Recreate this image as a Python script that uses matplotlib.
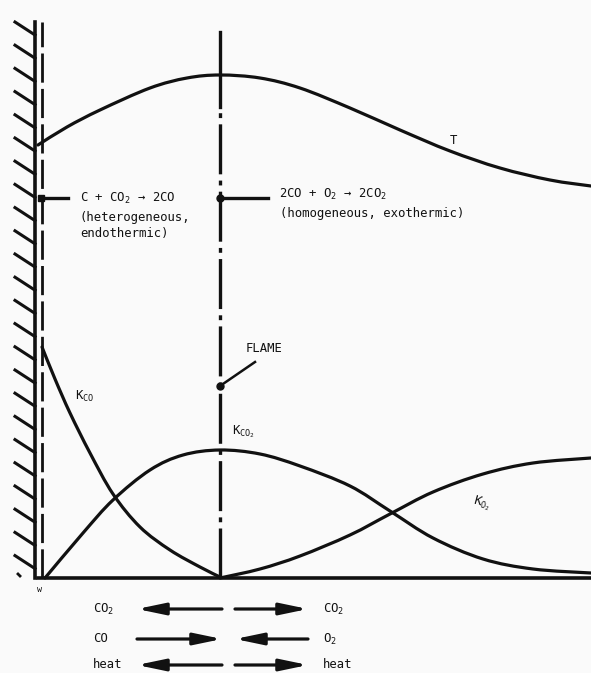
import numpy as np
import matplotlib.pyplot as plt
from matplotlib.path import Path
from matplotlib.patches import PathPatch

plt.rcParams['lines.scale_dashes'] = False

# ---- profiles: x = distance from wall, y = height above baseline ----
t_x = [0, 29, 62, 112, 149, 182, 222, 262, 312, 362, 412, 462, 512, 553]
t_y = [433, 451, 468, 490, 500, 503, 500, 490, 470, 448, 427, 410, 398, 392]

kco_x = [4, 17, 32, 52, 75, 102, 132, 162, 182]
kco_y = [231, 199, 165, 125, 84, 51, 28, 11, 1]

kco2_x = [7, 45, 75, 112, 145, 182, 222, 262, 312, 352, 395, 445, 495, 553]
kco2_y = [0, 45, 78, 108, 123, 128, 124, 112, 92, 67, 40, 19, 9, 5]

ko2_x = [182, 222, 262, 312, 352, 395, 445, 495, 553]
ko2_y = [0, 9, 22, 43, 64, 86, 104, 115, 120]

wall_x = -3
film_x = 4
flame_x = 182
reaction_y = 380
flame_mark_y = 192

flux_rows = [("$\\mathregular{CO_2}$", "left", "$\\mathregular{CO_2}$", "right"),
             ("CO", "right", "$\\mathregular{O_2}$", "left"),
             ("heat", "left", "heat", "right")]
flux_y = [-31, -61, -87]

INK = "#111111"
FONT = dict(family="DejaVu Sans Mono", fontsize=8.8, color=INK)


def smooth_path(xs, ys):
    """Catmull-Rom through the points, as cubic bezier segments."""
    p = np.column_stack([xs, ys]).astype(float)
    ext = np.vstack([p[0], p, p[-1]])
    verts = [p[0]]
    codes = [Path.MOVETO]
    for i in range(1, len(ext) - 2):
        c1 = ext[i] + (ext[i + 1] - ext[i - 1]) / 6.0
        c2 = ext[i + 1] - (ext[i + 2] - ext[i]) / 6.0
        verts += [c1, c2, ext[i + 1]]
        codes += [Path.CURVE4] * 3
    return Path(verts, codes)


fig = plt.figure(figsize=(5.91, 6.73), dpi=100)
fig.patch.set_facecolor("#fafafa")
ax = fig.add_axes([0, 0, 1, 1])
ax.set_facecolor("#fafafa")
ax.set_xlim(-38, 553)
ax.set_ylim(-95, 578)
ax.axis("off")

# wall with hatching
ax.plot([wall_x, wall_x], [0, 556], color=INK, lw=2.6)
ax.plot([film_x, film_x], [0, 556], color=INK, lw=2.0, dashes=(21, 4.5))
for y0 in np.arange(556, 10, -23.2):
    ax.plot([wall_x - 20, wall_x], [y0, y0 - 13], color=INK, lw=2.2)
ax.plot([-20, -18], [4, 2], color=INK, lw=2)

# baseline
ax.plot([0, 553], [0, 0], color=INK, lw=2.6)
ax.text(2, -12, "w", ha="center", va="center", family="DejaVu Sans Mono", fontsize=6, color=INK)

# flame line: solid top, dash-dot below
ax.plot([flame_x, flame_x], [471, 546], color=INK, lw=2.4)
ax.plot([flame_x, flame_x], [0, 471], color=INK, lw=2.4, dashes=(36, 4.5, 3.5, 4.5))

# profiles
for xs, ys in [(t_x, t_y), (kco_x, kco_y), (kco2_x, kco2_y), (ko2_x, ko2_y)]:
    ax.add_patch(PathPatch(smooth_path(xs, ys), facecolor="none", edgecolor=INK,
                           lw=2.3, capstyle="round", joinstyle="round"))

# reaction markers
ax.plot([film_x - 2, 30], [reaction_y, reaction_y], color=INK, lw=2.4)
ax.plot(film_x - 1, reaction_y, "s", color=INK, ms=4)
ax.plot([flame_x, 230], [reaction_y, reaction_y], color=INK, lw=2.4)
ax.plot(flame_x, reaction_y, "o", color=INK, ms=5)

ax.text(42, reaction_y, "C + $\\mathregular{CO_2}$ → 2CO", ha="left", va="center", **FONT)
ax.text(42, reaction_y - 20, "(heterogeneous,", ha="left", va="center", **FONT)
ax.text(42, reaction_y - 36, "endothermic)", ha="left", va="center", **FONT)
ax.text(241, reaction_y + 4, "2CO + $\\mathregular{O_2}$ → $\\mathregular{2CO_2}$", ha="left", va="center", **FONT)
ax.text(242, reaction_y - 15, "(homogeneous, exothermic)", ha="left", va="center", **FONT)

# flame pointer
ax.plot(flame_x, flame_mark_y, "o", color=INK, ms=5)
ax.plot([flame_x, 217], [flame_mark_y, 216], color=INK, lw=1.8)
ax.text(208, 230, "FLAME", ha="left", va="center", **FONT)

# curve labels
ax.text(415, 438, "T", ha="center", va="center", **FONT)
ax.text(37, 182, "$\\mathregular{K_{CO}}$", ha="left", va="center", **FONT)
ax.text(194, 146, "$\\mathregular{K_{CO_2}}$", ha="left", va="center", **FONT)
ax.text(433, 75, "$\\mathregular{K_{O_2}}$", ha="left", va="center", rotation=-15, **FONT)

# flux arrows
for (lab_l, dir_l, lab_r, dir_r), fy in zip(flux_rows, flux_y):
    for x0, x1, d in [(99, 184, dir_l), (197, 270, dir_r)]:
        start, end = (x1, x0) if d == "left" else (x0, x1)
        ax.annotate("", xy=(end, fy), xytext=(start, fy),
                    arrowprops=dict(arrowstyle="-|>,head_length=1.2,head_width=0.25",
                                    mutation_scale=14, lw=2.3, color=INK,
                                    shrinkA=0, shrinkB=0))
    ax.text(55, fy, lab_l, ha="left", va="center", **FONT)
    ax.text(285, fy, lab_r, ha="left", va="center", **FONT)

fig.savefig("out.png", dpi=100, facecolor=fig.get_facecolor())
